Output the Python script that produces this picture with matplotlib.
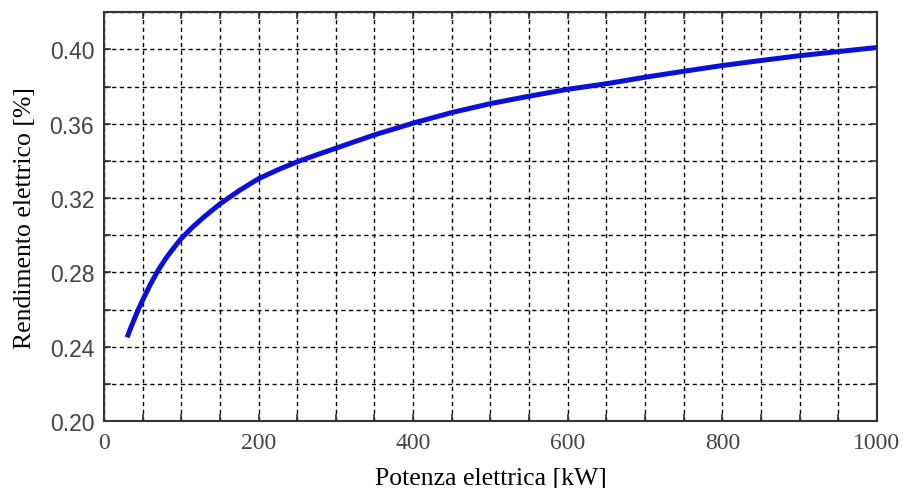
import matplotlib.pyplot as plt
from matplotlib.ticker import MultipleLocator

# potenza elettrica [kW] and rendimento elettrico
potenza = [30, 35, 40, 45, 50, 60, 70, 80, 90, 100, 115, 130, 150, 175,
           200, 225, 250, 275, 300, 350, 400, 450, 500, 550, 600, 650,
           700, 750, 800, 850, 900, 950, 1000]
rendimento = [0.245, 0.2505, 0.2556, 0.2605, 0.2650, 0.2735, 0.2810, 0.2875,
              0.2930, 0.2982, 0.3045, 0.3100, 0.3168, 0.3240, 0.3304, 0.3352,
              0.3395, 0.3432, 0.3468, 0.3540, 0.3603, 0.3660, 0.3708, 0.3748,
              0.3785, 0.3815, 0.3850, 0.3882, 0.3913, 0.3940, 0.3966, 0.3988,
              0.4010]

x_major = [0, 200, 400, 600, 800, 1000]
y_major = [0.20, 0.24, 0.28, 0.32, 0.36, 0.40]


def plot_graph():
    fig = plt.figure(figsize=(9.04, 4.89), dpi=100)
    ax = fig.add_axes([0.115, 0.137, 0.855, 0.836])

    ax.plot(potenza, rendimento, color='#0a10d8', linewidth=3.6,
            solid_capstyle='butt', solid_joinstyle='round', zorder=3)

    ax.set_xlim(0, 1000)
    ax.set_ylim(0.20, 0.42)
    ax.set_xticks(x_major)
    ax.set_yticks(y_major)
    ax.set_yticklabels(['%.2f' % v for v in y_major])
    ax.xaxis.set_minor_locator(MultipleLocator(50))
    ax.yaxis.set_minor_locator(MultipleLocator(0.02))

    ax.grid(True, which='both', color='black', linestyle=(0, (3, 2.5)), linewidth=1.0)
    ax.tick_params(which='both', direction='in', top=True, right=True,
                   length=5, width=1.2, color='#333333')
    ax.tick_params(axis='y', which='major', labelcolor='#444444', pad=7)
    ax.tick_params(axis='x', which='major', labelcolor='#444444', pad=8)
    for lab in ax.get_xticklabels():
        lab.set_fontfamily('Liberation Serif')
        lab.set_fontsize(17)
    for lab in ax.get_yticklabels():
        lab.set_fontfamily('Liberation Sans')
        lab.set_fontsize(16.5)

    for s in ax.spines.values():
        s.set_color('#333333')
        s.set_linewidth(1.5)

    ax.set_xlabel('Potenza elettrica [kW]', fontfamily='Liberation Serif',
                  fontsize=18.5, color='black', labelpad=10)
    ax.set_ylabel('Rendimento elettrico [%]', fontfamily='Liberation Serif',
                  fontsize=18.5, color='black', labelpad=10)

    fig.savefig('out.png', dpi=100)


plot_graph()
